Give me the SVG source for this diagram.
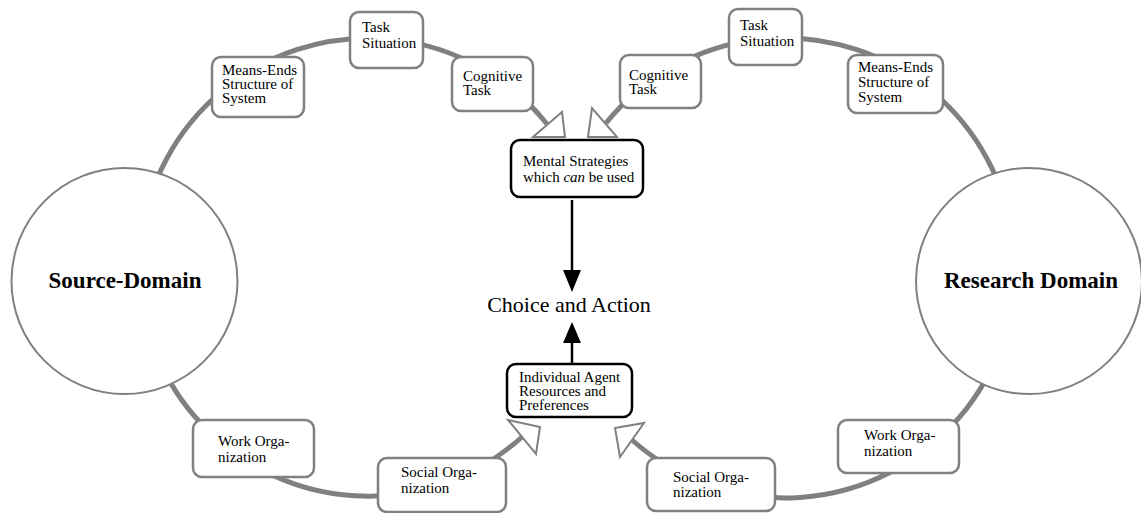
<svg xmlns="http://www.w3.org/2000/svg" width="1141" height="513" viewBox="0 0 1141 513">
<style>
.ring{fill:none;stroke:#808080;stroke-width:5}
.head{fill:#fff;stroke:#808080;stroke-width:2;stroke-linejoin:miter}
.gbox{fill:#fff;stroke:#808080;stroke-width:2.5}
.kbox{fill:#fff;stroke:#000;stroke-width:2.5}
.dom{fill:#fff;stroke:#808080;stroke-width:2}
.t{font-family:"Liberation Serif","Times New Roman",serif;font-size:15px;fill:#000}
.big{font-family:"Liberation Serif","Times New Roman",serif;font-size:23px;font-weight:bold;fill:#000;text-anchor:middle}
.ca{font-family:"Liberation Serif","Times New Roman",serif;font-size:22px;fill:#000;text-anchor:middle}
</style>
<rect width="1141" height="513" fill="#fff"/>
<g id="connectors">
<path class="ring" d="M547,124 A229,229 0 1 0 522,437"/>
<path class="ring" d="M606,123 A230,230 0 1 1 632,440"/>
<polygon class="head" points="533,137 562,112 565,137"/>
<polygon class="head" points="588,137 592,108 617,137"/>
<polygon class="head" points="508,420 540,427 536,454"/>
<polygon class="head" points="615,428 644,423 620,457"/>
<line x1="572" y1="200" x2="572" y2="272" stroke="#000" stroke-width="2.5"/>
<polygon points="563,270 581,270 572,292" fill="#000"/>
<line x1="572" y1="364" x2="572" y2="341" stroke="#000" stroke-width="2.5"/>
<polygon points="563,343 581,343 572,322" fill="#000"/>
</g>
<g id="source-domain">
<circle class="dom" cx="124.5" cy="281" r="113"/>
<text class="big" x="125" y="288">Source-Domain</text>
</g>
<g id="research-domain">
<circle class="dom" cx="1029" cy="281" r="113"/>
<text class="big" x="1031" y="288">Research Domain</text>
</g>
<g id="l-means-ends">
<rect class="gbox" x="212" y="57" width="92" height="60" rx="9"/>
<text class="t" x="222" y="75">Means-Ends</text>
<text class="t" x="222" y="89">Structure of</text>
<text class="t" x="222" y="103">System</text>
</g>
<g id="l-task-situation">
<rect class="gbox" x="350" y="12" width="73" height="56" rx="9"/>
<text class="t" x="362" y="32">Task</text>
<text class="t" x="362" y="48">Situation</text>
</g>
<g id="l-cognitive-task">
<rect class="gbox" x="452" y="57" width="81" height="54" rx="9"/>
<text class="t" x="463" y="81">Cognitive</text>
<text class="t" x="463" y="95">Task</text>
</g>
<g id="r-cognitive-task">
<rect class="gbox" x="620" y="55" width="81" height="53" rx="9"/>
<text class="t" x="629" y="80">Cognitive</text>
<text class="t" x="629" y="94">Task</text>
</g>
<g id="r-task-situation">
<rect class="gbox" x="729" y="9" width="73" height="56" rx="9"/>
<text class="t" x="740" y="30">Task</text>
<text class="t" x="740" y="46">Situation</text>
</g>
<g id="r-means-ends">
<rect class="gbox" x="848" y="55" width="95" height="58" rx="9"/>
<text class="t" x="858" y="72">Means-Ends</text>
<text class="t" x="858" y="87">Structure of</text>
<text class="t" x="858" y="102">System</text>
</g>
<g id="mental-strategies">
<rect class="kbox" x="511" y="140" width="132" height="57" rx="9"/>
<text class="t" x="523" y="166">Mental Strategies</text>
<text class="t" x="523" y="182">which <tspan font-style="italic">can</tspan> be used</text>
</g>
<g id="choice-action">
<text class="ca" x="569" y="312">Choice and Action</text>
</g>
<g id="individual-agent">
<rect class="kbox" x="507" y="364" width="125" height="53" rx="9"/>
<text class="t" x="519" y="382">Individual Agent</text>
<text class="t" x="519" y="396">Resources and</text>
<text class="t" x="519" y="410">Preferences</text>
</g>
<g id="l-work-org">
<rect class="gbox" x="193" y="420" width="121" height="57" rx="9"/>
<text class="t" x="218" y="446">Work Orga-</text>
<text class="t" x="218" y="462">nization</text>
</g>
<g id="l-social-org">
<rect class="gbox" x="378" y="458" width="128" height="54" rx="9"/>
<text class="t" x="401" y="477">Social Orga-</text>
<text class="t" x="401" y="493">nization</text>
</g>
<g id="r-social-org">
<rect class="gbox" x="647" y="458" width="128" height="53" rx="9"/>
<text class="t" x="673" y="482">Social Orga-</text>
<text class="t" x="673" y="497">nization</text>
</g>
<g id="r-work-org">
<rect class="gbox" x="838" y="420" width="121" height="53" rx="9"/>
<text class="t" x="864" y="440">Work Orga-</text>
<text class="t" x="864" y="456">nization</text>
</g>
</svg>
